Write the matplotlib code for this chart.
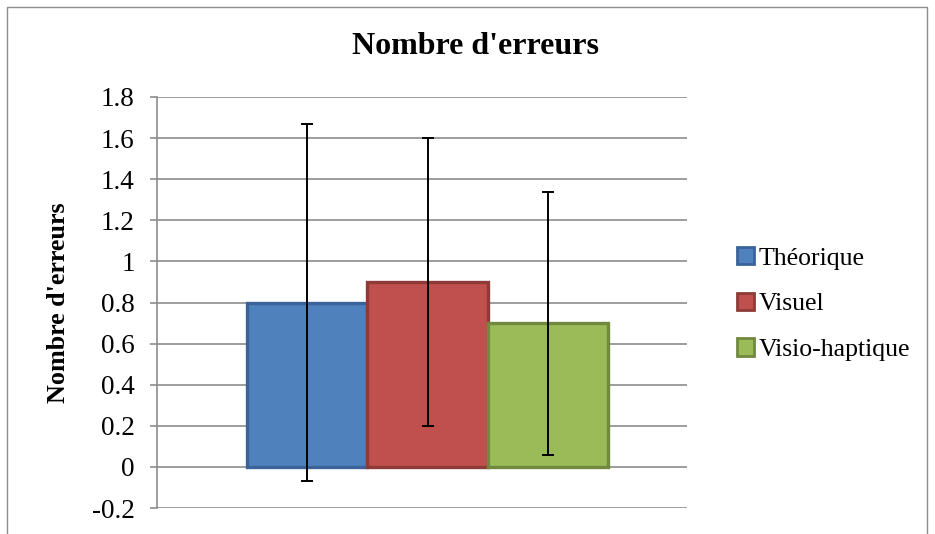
import matplotlib
matplotlib.use("Agg")
import matplotlib.pyplot as plt
from matplotlib.patches import Rectangle, Patch

categories = ["Théorique", "Visuel", "Visio-haptique"]
means = [0.8, 0.9, 0.7]
errors = [0.87, 0.70, 0.64]
yticks = [-0.2, 0, 0.2, 0.4, 0.6, 0.8, 1.0, 1.2, 1.4, 1.6, 1.8]
ytick_labels = ["-0.2", "0", "0.2", "0.4", "0.6", "0.8", "1", "1.2", "1.4", "1.6", "1.8"]

faces = ["#4F81BD", "#C0504D", "#9BBB59"]
edges = ["#3A639A", "#8E3B38", "#71893F"]

plt.rcParams['font.family'] = ['Liberation Serif', 'DejaVu Serif']

W, H = 935, 534
fig = plt.figure(figsize=(W/100, H/100), dpi=100)
fig.patches.append(Rectangle((7/W, -0.1), (927-7)/W, (534-7)/H + 0.1, transform=fig.transFigure,
                             fill=False, edgecolor="#8C8C8C", linewidth=1.0, zorder=0))

ax = fig.add_axes([157/W, 26/H, 530/W, 411/H])
ax.set_xlim(-1.245, 3.153)
ax.set_ylim(-0.2, 1.8)
ax.set_yticks(yticks)
ax.set_yticklabels(ytick_labels)
ax.yaxis.grid(True, color="#8C8C8C", linewidth=1.2)
ax.set_axisbelow(True)
ax.set_xticks([])
for s in ["top", "right", "bottom"]:
    ax.spines[s].set_visible(False)
ax.spines["left"].set_color("#8C8C8C")
ax.spines["left"].set_linewidth(1.2)
ax.tick_params(axis="y", length=5, width=1.2, color="#8C8C8C", labelsize=19.5, pad=11, direction="out")

handles = []
for i, (c, m) in enumerate(zip(categories, means)):
    ax.bar(i, m, width=1.0, color=faces[i], edgecolor=edges[i], linewidth=2.4, zorder=2)
    handles.append(Patch(facecolor=faces[i], edgecolor=edges[i], linewidth=2.0, label=c))
for i, (m, e) in enumerate(zip(means, errors)):
    ax.errorbar(i, m, yerr=e, fmt="none", ecolor="black", elinewidth=1.4, capsize=4.3, capthick=1.4, zorder=3)

ax.set_ylabel("Nombre d'erreurs", fontsize=18.8, fontweight="bold")
ax.yaxis.set_label_coords((70 - 157) / 530, 0.5)
fig.text(476/W, 1 - 47/H, "Nombre d'erreurs", ha="center", va="center", fontsize=23, fontweight="bold")

fig.legend(handles=handles, loc="center left", bbox_to_anchor=(737/W, 1 - 304/H), frameon=False,
           fontsize=18.5, handlelength=0.65, handleheight=0.65, handletextpad=0.2, labelspacing=0.9,
           borderpad=0, borderaxespad=0)

fig.savefig("out.png", dpi=100)
